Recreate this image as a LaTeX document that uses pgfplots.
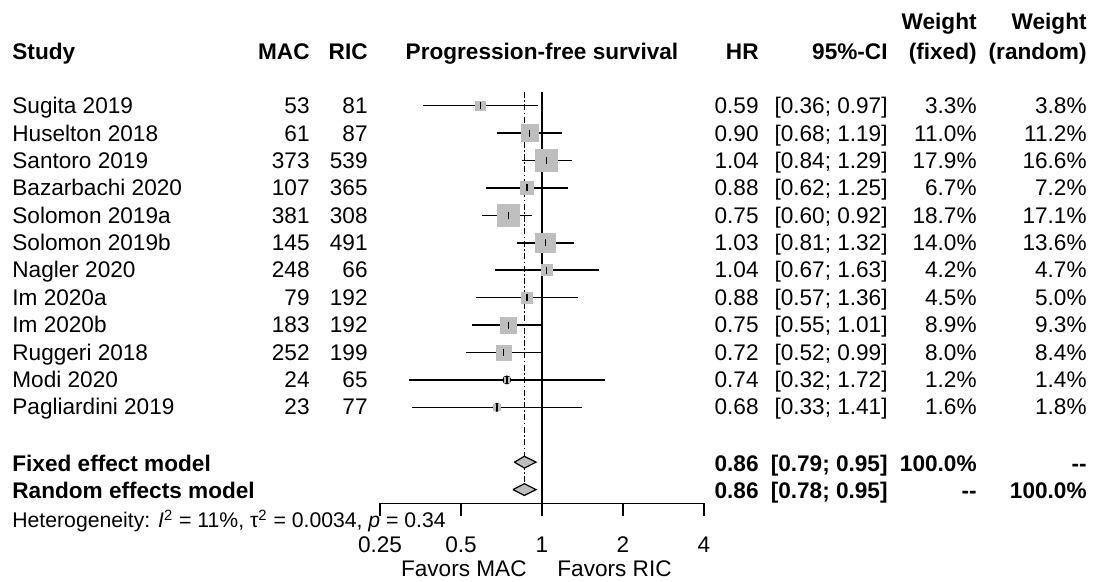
\documentclass[border=0pt]{standalone}
\usepackage{pgfplots}
\pgfplotsset{compat=1.18}
\usepackage{pgfplotstable}
\usepackage{fontspec}
\setmainfont{Liberation Sans}
\definecolor{sqgray}{HTML}{BEBEBE}

% row, hazard ratio, 95% CI, weight (fixed)
\pgfplotstableread{
row hr lo hi wf
1 0.59 0.36 0.97 3.3
2 0.90 0.68 1.19 11.0
3 1.04 0.84 1.29 17.9
4 0.88 0.62 1.25 6.7
5 0.75 0.60 0.92 18.7
6 1.03 0.81 1.32 14.0
7 1.04 0.67 1.63 4.2
8 0.88 0.57 1.36 4.5
9 0.75 0.55 1.01 8.9
10 0.72 0.52 0.99 8.0
11 0.74 0.32 1.72 1.2
12 0.68 0.33 1.41 1.6
}\studies

\begin{document}
\fontsize{11.3}{13}\selectfont
\begin{tikzpicture}[x=0.5pt,y=-0.5pt,every node/.style={inner sep=0pt}]
\path[use as bounding box] (0,0) rectangle (1093,582);
\begin{axis}[
  at={(271pt,-148.825pt)}, anchor=center,
  width=162pt, height=205.65pt, scale only axis,
  xmode=log, log basis x=2,
  xmin=0.25, xmax=4, ymin=0.5, ymax=15.5, y dir=reverse,
  axis x line*=bottom, axis y line=none,
  axis line style={line width=0.75pt},
  xtick={0.25,0.5,1,2,4}, xticklabels={0.25,0.5,1,2,4},
  tick align=outside, major tick length=6.5pt,
  tick style={black, line width=0.75pt},
  xticklabel style={font=\fontsize{11.3}{13}\selectfont, anchor=base, yshift=-18pt},
  clip=false,
]
\addplot[black, line width=0.75pt] coordinates {(1,0.5) (1,15.5)};
\addplot[black, line width=0.8pt, dash pattern=on 3pt off 1.2pt on 0.8pt off 1.2pt]
  coordinates {(0.86,0.5) (0.86,14.77)};
% confidence intervals
\addplot[black, only marks, mark=none,
  error bars/.cd, x dir=both, x explicit, error mark=none,
  error bar style={line width=0.75pt}]
  table[x=hr, y=row,
    x error plus expr=\thisrow{hi}-\thisrow{hr},
    x error minus expr=\thisrow{hr}-\thisrow{lo}] {\studies};
% squares sized by weight
\addplot[scatter, only marks, mark=square*,
  scatter/use mapped color={draw=sqgray, fill=sqgray},
  visualization depends on={1.3125*sqrt(\thisrow{wf}) \as \msz},
  scatter/@pre marker code/.append style={/tikz/mark size=\msz}]
  table[x=hr, y=row] {\studies};
\addplot[only marks, mark=|, mark size=1.75pt, mark options={black, line width=0.75pt}]
  table[x=hr, y=row] {\studies};
% pooled estimates
\addplot[fill=sqgray, draw=black, line width=0.6pt]
  coordinates {(0.79,14) (0.86,13.786) (0.95,14) (0.86,14.214) (0.79,14)};
\addplot[fill=sqgray, draw=black, line width=0.6pt]
  coordinates {(0.78,15) (0.86,14.786) (0.95,15) (0.86,15.214) (0.78,15)};
\end{axis}

% headers
\begin{scope}[font=\bfseries]
\node[anchor=base west] at (12,60) {Study};
\node[anchor=base east] at (310,60) {MAC};
\node[anchor=base east] at (368,60) {RIC};
\node[anchor=base] at (542,60) {Progression-free survival};
\node[anchor=base east] at (759,60) {HR};
\node[anchor=base east] at (888,60) {95\%-CI};
\node[anchor=base east] at (977,30) {Weight};
\node[anchor=base east] at (977,60) {(fixed)};
\node[anchor=base east] at (1087,30) {Weight};
\node[anchor=base east] at (1087,60) {(random)};
\end{scope}

% study rows
\foreach \s/\m/\r/\h/\c/\f/\w [count=\i] in {
  {Sugita 2019}/53/81/0.59/{[0.36; 0.97]}/3.3\%/3.8\%,
  {Huselton 2018}/61/87/0.90/{[0.68; 1.19]}/11.0\%/11.2\%,
  {Santoro 2019}/373/539/1.04/{[0.84; 1.29]}/17.9\%/16.6\%,
  {Bazarbachi 2020}/107/365/0.88/{[0.62; 1.25]}/6.7\%/7.2\%,
  {Solomon 2019a}/381/308/0.75/{[0.60; 0.92]}/18.7\%/17.1\%,
  {Solomon 2019b}/145/491/1.03/{[0.81; 1.32]}/14.0\%/13.6\%,
  {Nagler 2020}/248/66/1.04/{[0.67; 1.63]}/4.2\%/4.7\%,
  {Im 2020a}/79/192/0.88/{[0.57; 1.36]}/4.5\%/5.0\%,
  {Im 2020b}/183/192/0.75/{[0.55; 1.01]}/8.9\%/9.3\%,
  {Ruggeri 2018}/252/199/0.72/{[0.52; 0.99]}/8.0\%/8.4\%,
  {Modi 2020}/24/65/0.74/{[0.32; 1.72]}/1.2\%/1.4\%,
  {Pagliardini 2019}/23/77/0.68/{[0.33; 1.41]}/1.6\%/1.8\%}{
  \pgfmathsetmacro\yy{113.8+27.36*(\i-1)}
  \node[anchor=base west] at (12,\yy) {\s};
  \node[anchor=base east] at (310,\yy) {\m};
  \node[anchor=base east] at (368,\yy) {\r};
  \node[anchor=base east] at (759,\yy) {\h};
  \node[anchor=base east] at (888,\yy) {\c};
  \node[anchor=base east] at (977,\yy) {\f};
  \node[anchor=base east] at (1087,\yy) {\w};
}

% pooled rows
\begin{scope}[font=\bfseries]
\node[anchor=base west] at (12,472) {Fixed effect model};
\node[anchor=base east] at (759,472) {0.86};
\node[anchor=base east] at (888,472) {[0.79; 0.95]};
\node[anchor=base east] at (977,472) {100.0\%};
\node[anchor=base east] at (1087,472) {-{}-};
\node[anchor=base west] at (12,499) {Random effects model};
\node[anchor=base east] at (759,499) {0.86};
\node[anchor=base east] at (888,499) {[0.78; 0.95]};
\node[anchor=base east] at (977,499) {-{}-};
\node[anchor=base east] at (1087,499) {100.0\%};
\end{scope}
\node[anchor=base west, font=\fontsize{10.6}{12}\selectfont] at (12,528)
  {Heterogeneity: \textit{I}\textsuperscript{2} = 11\%, τ\textsuperscript{2} = 0.0034, \textit{p} = 0.34};
\node[anchor=base east] at (527,576.5) {Favors MAC};
\node[anchor=base west] at (557,576.5) {Favors RIC};
\end{tikzpicture}
\end{document}
